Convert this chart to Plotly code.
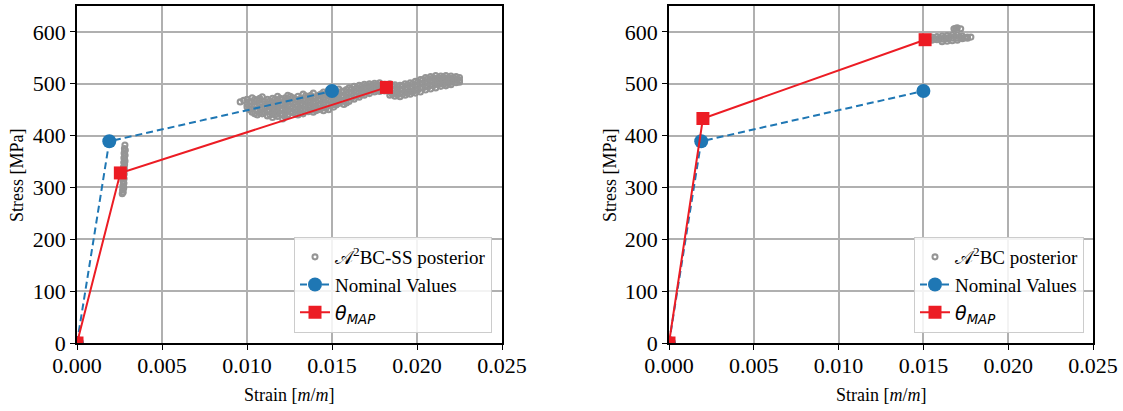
import plotly.graph_objects as go

# ---------------- data ----------------
# Nominal values (both panels)
nominal_strain = [0.0, 0.0019, 0.0150]
nominal_stress = [0.0, 389.0, 486.0]

# MAP estimates
map_ss_strain = [0.0, 0.00255, 0.0182]
map_ss_stress = [0.0, 328.0, 493.0]
map_strain = [0.0, 0.0020, 0.0151]
map_stress = [0.0, 433.0, 585.0]

# A2BC-SS posterior samples (left panel)
post_ss_pts = [
    (0.00282, 382), (0.00279, 375), (0.00284, 372), (0.00277, 366), (0.00283, 362),
    (0.00276, 357), (0.00281, 353), (0.00275, 348), (0.00280, 344), (0.00274, 339),
    (0.00279, 335), (0.00273, 330), (0.00278, 326), (0.00272, 321), (0.00277, 317),
    (0.00271, 312), (0.00276, 308), (0.00270, 303), (0.00275, 299), (0.00268, 295),
    (0.00272, 291), (0.00266, 288), (0.00280, 370), (0.00276, 340), (0.00274, 310),
    (0.00270, 320), (0.00282, 350), (0.00273, 300),
    (0.0096, 465), (0.0098, 468),
    (0.0100, 470), (0.0100, 460), (0.0100, 455),
    (0.0103, 473), (0.0103, 465), (0.0103, 452), (0.0103, 445),
    (0.0106, 468), (0.0106, 458), (0.0106, 448), (0.0106, 440),
    (0.0109, 475), (0.0109, 462), (0.0109, 452), (0.0109, 442),
    (0.0112, 470), (0.0112, 460), (0.0112, 448), (0.0112, 438),
    (0.0115, 472), (0.0115, 463), (0.0115, 453), (0.0115, 443), (0.0115, 435),
    (0.0118, 476), (0.0118, 466), (0.0118, 455), (0.0118, 445), (0.0118, 437),
    (0.0121, 470), (0.0121, 460), (0.0121, 450), (0.0121, 440), (0.0121, 432),
    (0.0124, 478), (0.0124, 468), (0.0124, 458), (0.0124, 448), (0.0124, 440),
    (0.0127, 473), (0.0127, 463), (0.0127, 453), (0.0127, 444),
    (0.0130, 476), (0.0130, 467), (0.0130, 457), (0.0130, 447), (0.0130, 440),
    (0.0133, 480), (0.0133, 470), (0.0133, 460), (0.0133, 450), (0.0133, 442),
    (0.0136, 474), (0.0136, 464), (0.0136, 454), (0.0136, 446),
    (0.0139, 482), (0.0139, 472), (0.0139, 462), (0.0139, 452), (0.0139, 445),
    (0.0142, 478), (0.0142, 468), (0.0142, 458), (0.0142, 450),
    (0.0145, 484), (0.0145, 474), (0.0145, 464), (0.0145, 455), (0.0145, 448),
    (0.0148, 488), (0.0148, 478), (0.0148, 468), (0.0148, 460), (0.0148, 450),
    (0.0151, 482), (0.0151, 472), (0.0151, 462), (0.0151, 455),
    (0.0154, 490), (0.0154, 480), (0.0154, 470), (0.0154, 462),
    (0.0157, 486), (0.0157, 476), (0.0157, 468), (0.0157, 460),
    (0.0160, 492), (0.0160, 483), (0.0160, 474), (0.0160, 466),
    (0.0163, 495), (0.0163, 487), (0.0163, 478), (0.0163, 470),
    (0.0166, 497), (0.0166, 490), (0.0166, 482), (0.0166, 474),
    (0.0169, 499), (0.0169, 492), (0.0169, 485), (0.0169, 478),
    (0.0172, 500), (0.0172, 494), (0.0172, 487), (0.0172, 481),
    (0.0175, 501), (0.0175, 496), (0.0175, 490), (0.0175, 484),
    (0.0178, 502), (0.0178, 497), (0.0178, 490), (0.0178, 485),
    (0.0181, 499), (0.0181, 492), (0.0181, 486),
    (0.0184, 500), (0.0184, 492), (0.0184, 484), (0.0184, 478),
    (0.0187, 498), (0.0187, 490), (0.0187, 482), (0.0187, 476),
    (0.0190, 497), (0.0190, 489), (0.0190, 481), (0.0190, 475),
    (0.0193, 500), (0.0193, 492), (0.0193, 484), (0.0193, 478),
    (0.0196, 502), (0.0196, 494), (0.0196, 486), (0.0196, 480),
    (0.0199, 505), (0.0199, 496), (0.0199, 488), (0.0199, 482),
    (0.0202, 508), (0.0202, 500), (0.0202, 492), (0.0202, 484),
    (0.0205, 512), (0.0205, 504), (0.0205, 496), (0.0205, 488),
    (0.0208, 514), (0.0208, 506), (0.0208, 498), (0.0208, 490),
    (0.0211, 516), (0.0211, 508), (0.0211, 500), (0.0211, 492),
    (0.0214, 515), (0.0214, 508), (0.0214, 502), (0.0214, 495),
    (0.0217, 516), (0.0217, 510), (0.0217, 503), (0.0217, 496),
    (0.0220, 515), (0.0220, 509), (0.0220, 503), (0.0220, 498),
    (0.0223, 514), (0.0223, 508), (0.0223, 502),
    (0.0225, 512), (0.0225, 506), (0.0225, 503),
    (0.01015, 465), (0.01015, 450), (0.01045, 470), (0.01045, 458), (0.01045, 442),
    (0.01075, 472), (0.01075, 462), (0.01075, 452), (0.01075, 444),
    (0.01105, 466), (0.01105, 455), (0.01105, 445), (0.01135, 467), (0.01135, 457),
    (0.01135, 448), (0.01135, 440), (0.01165, 470), (0.01165, 459), (0.01165, 449),
    (0.01165, 440), (0.01195, 472), (0.01195, 462), (0.01195, 451), (0.01195, 441),
    (0.01225, 473), (0.01225, 463), (0.01225, 453), (0.01225, 443), (0.01225, 436),
    (0.01255, 476), (0.01255, 466), (0.01255, 456), (0.01255, 446),
    (0.01285, 470), (0.01285, 460), (0.01285, 450), (0.01285, 442),
    (0.01315, 472), (0.01315, 462), (0.01315, 452), (0.01315, 444),
    (0.01345, 477), (0.01345, 467), (0.01345, 457), (0.01345, 448),
    (0.01375, 478), (0.01375, 468), (0.01375, 458), (0.01375, 449),
    (0.01405, 475), (0.01405, 465), (0.01405, 455), (0.01405, 448),
    (0.01435, 480), (0.01435, 470), (0.01435, 460), (0.01435, 452),
    (0.01465, 481), (0.01465, 471), (0.01465, 461), (0.01465, 453),
    (0.01495, 485), (0.01495, 476), (0.01495, 466), (0.01495, 458),
    (0.01525, 486), (0.01525, 476), (0.01525, 466), (0.01525, 459),
    (0.01555, 485), (0.01555, 475), (0.01555, 466),
    (0.01585, 489), (0.01585, 480), (0.01585, 471), (0.01585, 463),
    (0.01615, 490), (0.01615, 481), (0.01615, 472),
    (0.01645, 492), (0.01645, 484), (0.01645, 476),
    (0.01675, 494), (0.01675, 486), (0.01675, 479),
    (0.01705, 497), (0.01705, 490), (0.01705, 483),
    (0.01735, 498), (0.01735, 492), (0.01735, 486),
    (0.01765, 499), (0.01765, 493), (0.01765, 487),
    (0.01855, 496), (0.01855, 488), (0.01855, 480),
    (0.01885, 494), (0.01885, 486), (0.01885, 479),
    (0.01915, 496), (0.01915, 488), (0.01915, 480),
    (0.01945, 498), (0.01945, 490), (0.01945, 482),
    (0.01975, 500), (0.01975, 492), (0.01975, 484),
    (0.02005, 504), (0.02005, 496), (0.02005, 488),
    (0.02035, 508), (0.02035, 500), (0.02035, 492),
    (0.02065, 510), (0.02065, 502), (0.02065, 494),
    (0.02095, 512), (0.02095, 504), (0.02095, 496),
    (0.02125, 512), (0.02125, 505), (0.02125, 498),
    (0.02155, 513), (0.02155, 506), (0.02155, 499),
    (0.02185, 512), (0.02185, 506), (0.02185, 500),
    (0.02215, 512), (0.02215, 506), (0.02240, 509),
]
post_ss_strain = [p[0] for p in post_ss_pts]
post_ss_stress = [p[1] for p in post_ss_pts]

# A2BC posterior samples (right panel)
post_pts = [
    (0.0152, 588), (0.0152, 582), (0.0155, 590), (0.0155, 584), (0.0158, 591),
    (0.0158, 585), (0.0161, 592), (0.0161, 586), (0.0161, 581), (0.0164, 593),
    (0.0164, 587), (0.0164, 582), (0.0167, 594), (0.0167, 588), (0.0167, 583),
    (0.0170, 594), (0.0170, 588), (0.0170, 584), (0.0173, 592), (0.0173, 587),
    (0.0176, 590), (0.0176, 588), (0.0178, 590), (0.0168, 606), (0.0170, 608),
    (0.0172, 606), (0.01535, 586), (0.01565, 587), (0.01595, 588), (0.01625, 589),
    (0.01655, 590), (0.01685, 591), (0.01715, 590), (0.01745, 589), (0.0169, 607),
]
post_strain = [p[0] for p in post_pts]
post_stress = [p[1] for p in post_pts]

x_ticks = [0.0, 0.005, 0.010, 0.015, 0.020, 0.025]
y_ticks = [0, 100, 200, 300, 400, 500, 600]

# ---------------- style ----------------
SERIF = "Liberation Serif, Times New Roman, Times, serif"
BLUE = "#1f77b4"
RED = "#ec1c24"
GREY = "#959595"
W, H = 1123, 411

fig = go.Figure()

theta_label = '<span style="font-family:DejaVu Sans"><i>θ<sub>MAP</sub></i></span>'
panels = [
    ("x", "y", "legend", post_ss_strain, post_ss_stress, "𝒜<sup>2</sup>BC-SS posterior",
     map_ss_strain, map_ss_stress),
    ("x2", "y2", "legend2", post_strain, post_stress, "𝒜<sup>2</sup>BC posterior",
     map_strain, map_stress),
]
for xa, ya, lg, px, py, pname, mx, my in panels:
    fig.add_trace(go.Scatter(
        x=px, y=py, mode="markers", name=pname, xaxis=xa, yaxis=ya, legend=lg,
        marker=dict(symbol="circle-open", size=5, color=GREY, line=dict(width=2.1, color=GREY)),
    ))
    fig.add_trace(go.Scatter(
        x=nominal_strain, y=nominal_stress, mode="lines+markers", name="Nominal Values",
        xaxis=xa, yaxis=ya, legend=lg,
        line=dict(color=BLUE, width=2, dash="7px,4px"),
        marker=dict(symbol="circle", size=14, color=BLUE),
    ))
    fig.add_trace(go.Scatter(
        x=mx, y=my, mode="lines+markers", name=theta_label,
        xaxis=xa, yaxis=ya, legend=lg,
        line=dict(color=RED, width=2),
        marker=dict(symbol="square", size=13, color=RED),
    ))

ytop, ybot = 6, 343
ydom = [(H - ybot) / H, (H - ytop) / H]
xdoms = [[77 / W, 502 / W], [669 / W, 1093 / W]]

axis_common = dict(
    showline=True, linecolor="black", linewidth=1.5, mirror=True,
    ticks="outside", ticklen=5, tickwidth=1.3, tickcolor="black",
    showgrid=True, gridcolor="#b0b0b0", gridwidth=1.5, automargin=False,
    zeroline=False, tickfont=dict(family=SERIF, size=22, color="black"),
)

legend_common = dict(
    bgcolor="rgba(255,255,255,0.85)", bordercolor="#cccccc", borderwidth=1,
    font=dict(family=SERIF, size=19, color="black"),
    xanchor="right", yanchor="bottom", tracegroupgap=0, itemsizing="trace",
)

layout = dict(
    width=W, height=H, margin=dict(l=0, r=0, t=0, b=0, autoexpand=False),
    paper_bgcolor="white", plot_bgcolor="white", showlegend=True,
    legend=dict(x=492 / W, y=(H - 333) / H, **legend_common),
    legend2=dict(x=1084 / W, y=(H - 333) / H, **legend_common),
)
for i, (xa, ya) in enumerate([("xaxis", "yaxis"), ("xaxis2", "yaxis2")]):
    xname = "x" if i == 0 else "x2"
    yname = "y" if i == 0 else "y2"
    layout[xa] = dict(domain=xdoms[i], range=[0, 0.025], tickvals=x_ticks,
                      ticktext=[f"{v:.3f}" for v in x_ticks], anchor=yname,
                      ticklabelstandoff=-3, **axis_common)
    layout[ya] = dict(domain=ydom, range=[0, 650], tickvals=y_ticks,
                      ticktext=[str(v) for v in y_ticks], anchor=xname, **axis_common)
fig.update_layout(**layout)

# axis titles as annotations
for cx, ycx in [((77 + 502) / 2, 17), ((669 + 1093) / 2, 610)]:
    fig.add_annotation(x=cx / W, y=1 - 395 / H, xref="paper", yref="paper",
                       xanchor="center", yanchor="middle",
                       text="Strain [<i>m</i>/<i>m</i>]", showarrow=False,
                       font=dict(family=SERIF, size=18, color="black"))
    fig.add_annotation(x=ycx / W, y=1 - 175 / H, xref="paper", yref="paper",
                       xanchor="center", yanchor="middle",
                       text="Stress [MPa]", textangle=-90, showarrow=False,
                       font=dict(family=SERIF, size=18, color="black"))

fig.write_html("out.html")
